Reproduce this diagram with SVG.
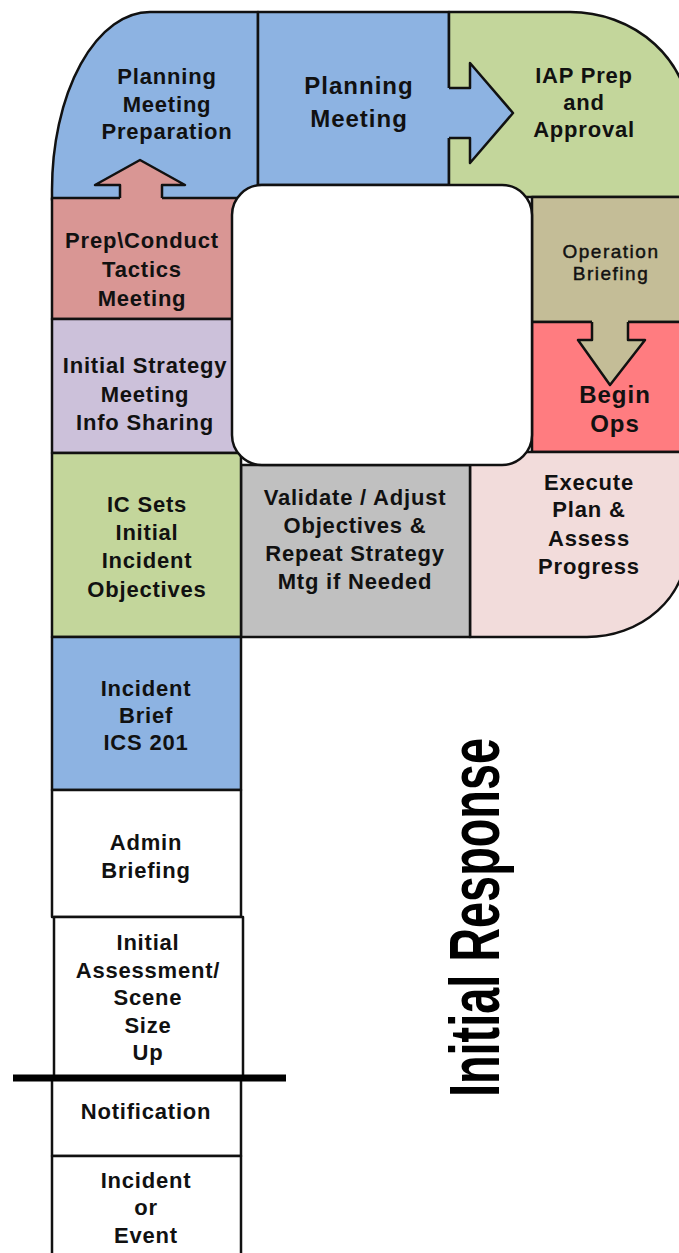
<svg xmlns="http://www.w3.org/2000/svg" width="679" height="1253" viewBox="0 0 679 1253">
<style>
.b{stroke:#111;stroke-width:2.5;stroke-linejoin:round}
.t{font-family:"Liberation Sans",Arial,sans-serif;font-weight:bold;font-size:22px;letter-spacing:0.8px;fill:#111;text-anchor:middle}
.m{font-weight:normal;font-size:19px;letter-spacing:1.5px;stroke:#111;stroke-width:0.45}
.l{font-size:24px;letter-spacing:1px}
.blue{fill:#8db3e2}.green{fill:#c3d69b}.tan{fill:#c4bd97}.red{fill:#ff7c80}.pink{fill:#d99694}
.lav{fill:#ccc1da}.gray{fill:#c0c0c0}.rose{fill:#f2dcdb}.white{fill:#fff}
</style>
<rect width="679" height="1253" fill="#fff"/>
<g id="prep-planning"><path class="b blue" d="M52,200 V190 A98,178 0 0 1 150,12 H258 V200 Z"/>
<text class="t" x="167" y="84">Planning</text><text class="t" x="167" y="112">Meeting</text><text class="t" x="167" y="139">Preparation</text></g>
<g id="planning-meeting"><rect class="b blue" x="258" y="12" width="191" height="173"/>
<text class="t l" x="359" y="94">Planning</text><text class="t l" x="359" y="127">Meeting</text></g>
<g id="iap"><path class="b green" d="M449,12 H570 A120,110 0 0 1 690,122 V197 H449 Z"/>
<text class="t" x="584" y="83">IAP Prep</text><text class="t" x="584" y="110">and</text><text class="t" x="584" y="137">Approval</text></g>
<g id="tactics"><rect class="b pink" x="52" y="198" width="190" height="121"/>
<text class="t" x="142" y="248">Prep\Conduct</text><text class="t" x="142" y="277">Tactics</text><text class="t" x="142" y="306">Meeting</text></g>
<g id="strategy"><rect class="b lav" x="52" y="319" width="190" height="134"/>
<text class="t" x="145" y="373">Initial Strategy</text><text class="t" x="145" y="402">Meeting</text><text class="t" x="145" y="430">Info Sharing</text></g>
<g id="op-briefing"><rect class="b tan" x="532" y="197" width="160" height="125"/>
<text class="t m" x="611" y="258">Operation</text><text class="t m" x="611" y="280">Briefing</text></g>
<g id="begin-ops"><rect class="b red" x="532" y="322" width="160" height="130"/>
<text class="t l" x="615" y="403">Begin</text><text class="t l" x="615" y="432">Ops</text></g>
<g id="execute"><path class="b rose" d="M470,452 H687 V547 A100,90 0 0 1 587,637 H470 Z"/>
<text class="t" x="589" y="490">Execute</text><text class="t" x="589" y="517">Plan &amp;</text><text class="t" x="589" y="546">Assess</text><text class="t" x="589" y="574">Progress</text></g>
<g id="validate"><rect class="b gray" x="241" y="465" width="229" height="172"/>
<text class="t" x="355" y="505">Validate / Adjust</text><text class="t" x="355" y="533">Objectives &amp;</text><text class="t" x="355" y="561">Repeat Strategy</text><text class="t" x="355" y="589">Mtg if Needed</text></g>
<g id="ic-objectives"><rect class="b green" x="52" y="453" width="189" height="184"/>
<text class="t" x="147" y="512">IC Sets</text><text class="t" x="147" y="540">Initial</text><text class="t" x="147" y="568">Incident</text><text class="t" x="147" y="597">Objectives</text></g>
<g id="center"><rect class="b white" x="232" y="185" width="300" height="280" rx="30" ry="30"/></g>
<g id="incident-brief"><rect class="b blue" x="52" y="637" width="189" height="153"/>
<text class="t" x="146" y="696">Incident</text><text class="t" x="146" y="723">Brief</text><text class="t" x="146" y="750">ICS 201</text></g>
<g id="admin-briefing"><rect class="b white" x="52" y="790" width="189" height="127"/>
<text class="t" x="146" y="850">Admin</text><text class="t" x="146" y="878">Briefing</text></g>
<g id="assessment"><rect class="b white" x="54" y="917" width="189" height="160"/>
<text class="t" x="148" y="950">Initial</text><text class="t" x="148" y="978">Assessment/</text><text class="t" x="148" y="1005">Scene</text><text class="t" x="148" y="1033">Size</text><text class="t" x="148" y="1060">Up</text></g>
<g id="notification"><rect class="b white" x="52" y="1078" width="189" height="78"/>
<text class="t" x="146" y="1119">Notification</text></g>
<g id="incident"><rect class="b white" x="52" y="1156" width="189" height="110"/>
<text class="t" x="146" y="1188">Incident</text><text class="t" x="146" y="1215">or</text><text class="t" x="146" y="1243">Event</text></g>
<g id="divider"><line x1="13" y1="1078" x2="286" y2="1078" stroke="#000" stroke-width="7"/></g>
<g id="connectors">
<polygon class="pink" points="120,201 120,185 95,185 140,160 185,185 162,185 162,201"/>
<polyline class="b" fill="none" points="120,198 120,185 95,185 140,160 185,185 162,185 162,198"/>
<polygon class="blue" points="447,88 470,88 470,63 513,113 470,163 470,138 447,138"/>
<polyline class="b" fill="none" points="449,88 470,88 470,63 513,113 470,163 470,138 449,138"/>
<polygon class="tan" points="592,320 592,340 578,340 610,385 645,340 628,340 628,320"/>
<polyline class="b" fill="none" points="592,322 592,340 578,340 610,385 645,340 628,340 628,322"/>
</g>
<g id="initial-response"><text transform="translate(499,917.5) rotate(-90)" font-family="Liberation Sans, Arial, sans-serif" font-weight="bold" font-size="71" text-anchor="middle" fill="#000" textLength="359" lengthAdjust="spacingAndGlyphs">Initial Response</text></g>
</svg>
